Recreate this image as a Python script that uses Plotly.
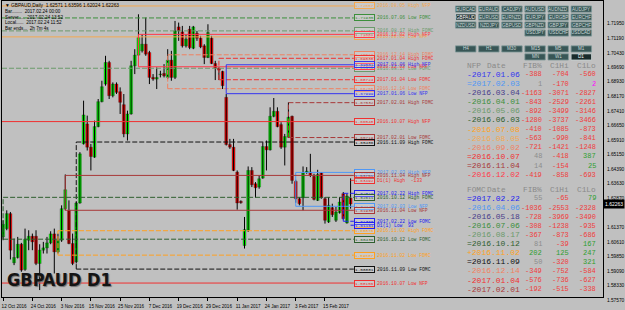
import plotly.graph_objects as go

# ---------------- data ----------------
bar_open = [1.60555,1.60986,1.61764,1.59208,1.59484,1.60174,1.58863,1.60382,1.60589,1.60589,
            1.59174,1.59864,1.59985,1.60244,1.60710,1.59777,1.60382,1.62022,1.61936,1.60209,
            1.59260,1.62316,1.65390,1.66426,1.65217,1.64699,1.66288,1.67584,1.68499,1.69621,
            1.67894,1.68499,1.68102,1.67428,1.65908,1.66944,1.69449,1.70001,1.70226,1.70571,
            1.70139,1.68844,1.68758,1.68982,1.69051,1.68844,1.69742,1.68844,1.71469,1.71210,
            1.70485,1.71348,1.70364,1.71141,1.70882,1.70485,1.69880,1.70882,1.69569,1.69328,
            1.69155,1.67808,1.65356,1.65217,1.63922,1.62402,1.60105,1.60900,1.64008,1.63318,
            1.63145,1.63611,1.65252,1.65080,1.66824,1.67083,1.66392,1.65217,1.65736,1.66824,
            1.63439,1.62540,1.62592,1.63922,1.63922,1.63698,1.62454,1.63888,1.62540,1.61332,
            1.62074,1.61418,1.61815,1.62800,1.61280,1.62571]
bar_high = [1.61418,1.61936,1.61850,1.60468,1.60555,1.60244,1.60986,1.60900,1.60727,1.60900,
            1.60174,1.60296,1.60555,1.60848,1.60986,1.60727,1.62195,1.63801,1.62454,1.60727,
            1.62368,1.64959,1.67635,1.66858,1.65390,1.66599,1.67722,1.68671,1.69967,1.69708,
            1.68585,1.68585,1.68326,1.67981,1.67117,1.69708,1.70312,1.72125,1.71089,1.71953,
            1.70226,1.69017,1.69362,1.69190,1.69535,1.70312,1.70226,1.71780,1.71694,1.71521,
            1.71089,1.71521,1.71521,1.71262,1.71003,1.70571,1.71607,1.71003,1.69708,1.69362,
            1.69190,1.67981,1.65649,1.65649,1.64008,1.62454,1.61591,1.64216,1.64181,1.63404,
            1.63749,1.65476,1.65563,1.67290,1.67774,1.67290,1.66513,1.65908,1.67549,1.66858,
            1.63525,1.62627,1.64216,1.64181,1.64872,1.63836,1.64043,1.63922,1.62627,1.62627,
            1.62281,1.62109,1.62627,1.62886,1.62800,1.63596]
bar_low = [1.60382,1.60900,1.59381,1.59087,1.59432,1.58742,1.58794,1.59864,1.59864,1.59087,
           1.57792,1.59691,1.59691,1.60174,1.58655,1.59691,1.60296,1.61936,1.60174,1.59087,
           1.59174,1.62281,1.65356,1.65045,1.64008,1.64665,1.66254,1.67549,1.68413,1.67722,
           1.67808,1.67981,1.66944,1.65736,1.65563,1.66910,1.69017,1.69967,1.70139,1.69967,
           1.68499,1.68671,1.68240,1.68844,1.68844,1.68758,1.68671,1.68758,1.70744,1.70398,
           1.70398,1.70312,1.70312,1.70744,1.70364,1.69535,1.69846,1.69535,1.68706,1.68706,
           1.68240,1.65304,1.65131,1.63974,1.61971,1.62281,1.59950,1.60814,1.63145,1.62592,
           1.63059,1.63577,1.64008,1.65045,1.66772,1.66254,1.65131,1.64268,1.65701,1.63318,
           1.62333,1.62195,1.61936,1.63836,1.63663,1.62454,1.62419,1.62540,1.61245,1.61280,
           1.61591,1.61332,1.61764,1.61453,1.61245,1.62024]
bar_close = [1.61211,1.61764,1.59864,1.59484,1.60174,1.58828,1.60434,1.60589,1.60296,1.59174,
             1.59864,1.59985,1.60244,1.60710,1.59777,1.60382,1.62022,1.63007,1.60209,1.59174,
             1.62316,1.64872,1.66893,1.65217,1.64734,1.66288,1.67584,1.68361,1.69621,1.67894,
             1.68499,1.68067,1.67549,1.65908,1.66944,1.69449,1.70001,1.70917,1.70571,1.70053,
             1.68844,1.68758,1.68844,1.69017,1.68930,1.69742,1.68844,1.71262,1.71262,1.70485,
             1.70830,1.70398,1.71469,1.70882,1.70433,1.69880,1.71176,1.69569,1.69328,1.69224,
             1.68413,1.65356,1.65217,1.64008,1.62316,1.62333,1.60934,1.64008,1.63266,1.63110,
             1.63577,1.65252,1.65080,1.66824,1.67083,1.66288,1.65217,1.65770,1.66772,1.63490,
             1.62540,1.62281,1.63888,1.63974,1.63749,1.62506,1.63801,1.62592,1.61418,1.62195,
             1.61712,1.61850,1.62368,1.61504,1.62679,1.62263]

date_labels = ["12 Oct 2016", "24 Oct 2016", "3 Nov 2016", "15 Nov 2016", "25 Nov 2016", "7 Dec 2016",
               "19 Dec 2016", "29 Dec 2016", "11 Jan 2017", "24 Jan 2017", "3 Feb 2017", "15 Feb 2017"]
date_label_bars = [0, 8, 16, 24, 32, 40, 48, 56, 64, 72, 80, 88]

price_ticks = [1.71950, 1.71190, 1.70430, 1.69690, 1.68930, 1.68170, 1.67410, 1.66650, 1.65910, 1.65150,
               1.64390, 1.63630, 1.62870, 1.61370, 1.60610, 1.59850, 1.59090, 1.58330, 1.57570]

header_text = "\u25BC GBPAUD,Daily  1.62571 1.63596 1.62024 1.62263"
info_lines = ["Bar........  2017.02.24 00:00", "Server.....  2017.02.24 13:52",
              "Local......  2017.02.24 11:52", "Bar ends...  2h 7m 4s"]
current_price = "1.62263"

# NFP table
nfp_prefix = ["-", "=", "-", "-", "-", "-", "-", "-", "-", "=", "=", "-"]
nfp_dates = ["2017.01.06", "2017.02.03", "2016.03.04", "2016.04.01", "2016.05.06", "2016.06.03",
             "2016.07.08", "2016.08.05", "2016.09.02", "2016.10.07", "2016.11.04", "2016.12.02"]
nfp_fib = [-388, 1, -1163, -843, -892, -1280, -410, -563, -721, 48, 14, -419]
nfp_c1hi = [-704, -170, -3071, -2529, -3499, -3737, -1085, -990, -1421, -418, -154, -858]
nfp_c1lo = [-560, 2, -2827, -2261, -3146, -3466, -873, -841, -1248, 387, 25, -693]
nfp_colors = ["#3434F0", "#4F97F5", "#483D8B", "#3C8F3C", "#6B9A6B", "#2E5E2E",
              "#FFA020", "#F4A850", "#F08060", "#F03030", "#A83838", "#FF3A4A"]

# FOMC table
fomc_prefix = ["=", "-", "-", "-", "-", "=", "+", "=", "-", "-", "-"]
fomc_dates = ["2017.02.22", "2016.04.06", "2016.05.18", "2016.07.06", "2016.08.17", "2016.10.12",
              "2016.11.02", "2016.11.09", "2016.12.14", "2017.01.04", "2017.02.01"]
fomc_fib = [55, -1036, -728, -308, -367, 81, 202, 50, -349, -576, -192]
fomc_c1hi = [-65, -2553, -3969, -1238, -873, -39, 125, -320, -752, -736, -515]
fomc_c1lo = [79, -2328, -3490, -935, -686, 167, 247, 321, -584, -627, -338]
fomc_colors = ["#2020F0", "#4F97F5", "#483D8B", "#3C8F3C", "#6B9A6B", "#2E5E2E",
               "#FFA020", "#101010", "#F08060", "#F03030", "#A83838"]

# event levels drawn on the chart (start bar None = before the visible window)
ev_date = ["2016.08.05", "2016.07.06", "2016.08.17", "2016.12.02", "2016.12.14", "2017.01.04",
           "2017.01.06", "2017.02.01", "2016.10.07", "2016.11.09", "2017.02.03", "2016.11.04",
           "2017.02.22", "2016.10.12", "2016.11.02"]
ev_type = ["NFP", "FOMC", "FOMC", "NFP", "FOMC", "FOMC", "NFP", "FOMC", "NFP", "FOMC", "NFP", "NFP",
           "FOMC", "FOMC", "FOMC"]
ev_bar = [None, None, None, 37, 45, 59, 61, 78, None, 20, 80, 17, 93, 0, 15]
ev_high = [1.72557, None, 1.71262, 1.71081, 1.70019, 1.69838, 1.69501, 1.67532, 1.66548, 1.65486,
           1.63906, 1.63751, 1.62819, 1.62611, 1.60876]
ev_low = [1.70951, 1.71935, 1.69320, 1.69398, 1.68258, 1.68724, 1.67999, 1.65719, 1.58156, 1.58881,
          1.62145, 1.61938, 1.61368, 1.60436, 1.59607]

prev_text = ["D1(1) High  -133", "D1(1) Low  93"]
prev_price = [1.63492, 1.61161]
prev_color = ["#F03030", "#2020F0"]

sym_rows = [["EURCAD", "EURAUD", "CADJPY", "AUDUSD", "AUDNZD", "AUDJPY"],
            ["GBPAUD", "EURUSD", "EURNZD", "EURJPY", "EURGBP", "EURCHF"],
            ["NZDUSD", "NZDJPY", "GBPUSD", "GBPNZD", "GBPJPY", "GBPCHF"],
            ["", "", "", "USDJPY", "USDCHF", "USDCAD"]]
tf_rows = [["H4", "H1", "M30", "M15", "M5", "M1"], ["", "", "", "MN", "W1", "D1"]]
selected = ["GBPAUD", "D1"]

# ---------------- layout geometry ----------------
W, H = 625, 310
L, R, T, B = 2, 20, 0, 13
PW, PH = W - L - R, H - T - B
BAR_PX = 3.67
X0 = -0.3
X1 = X0 + PW / BAR_PX
Y0, Y1 = 1.57431, 1.72816
BG = "#C0C0C0"
MONO = "Liberation Mono"
SANS = "Liberation Sans"
FS_HDR, FS_DATE, FS_NUM = 7.8, 8.0, 7.0


def pxp(xp):
    return (xp - L) / PW


def pyp(yp):
    return 1 - (yp - T) / PH


def xi(xp):
    return X0 + (xp - L) / BAR_PX


fig = go.Figure()
n = len(bar_open)
idx = list(range(n))

# wicks
wx, wy = [], []
for i in idx:
    wx += [i, i, None]
    wy += [bar_low[i], bar_high[i], None]
fig.add_trace(go.Scatter(x=wx, y=wy, mode="lines", line=dict(color="black", width=1),
                         hoverinfo="skip", showlegend=False))

# bodies
for up, col in ((True, "#00FF00"), (False, "#FF0000")):
    sel = [i for i in idx if (bar_close[i] >= bar_open[i]) == up]
    fig.add_trace(go.Bar(
        x=sel,
        base=[min(bar_open[i], bar_close[i]) for i in sel],
        y=[max(abs(bar_close[i] - bar_open[i]), 0.00012) for i in sel],
        width=0.82, marker=dict(color=col, line=dict(color="#202020", width=0.3)),
        hoverinfo="skip", showlegend=False))

color_by_date = {}
for d, c in zip(nfp_dates, nfp_colors):
    color_by_date[("NFP", d)] = c
for d, c in zip(fomc_dates, fomc_colors):
    color_by_date[("FOMC", d)] = c

LINE_END = xi(355)
BOX_X = xi(355)
TXT_X = xi(376)
annotations = []


def level_label(price, text, color):
    annotations.append(dict(x=BOX_X, y=price, xref="x", yref="y", xanchor="left", yanchor="middle",
                            text=f"{price:.5f}", showarrow=False,
                            font=dict(family=MONO, size=4.4, color=color),
                            bordercolor=color, borderwidth=1, borderpad=0, bgcolor="rgba(230,230,230,0.25)"))
    annotations.append(dict(x=TXT_X, y=price, xref="x", yref="y", xanchor="left", yanchor="middle",
                            text=text, showarrow=False,
                            font=dict(family=MONO, size=4.7, color=color)))


for d, t, sb, hi, lo in zip(ev_date, ev_type, ev_bar, ev_high, ev_low):
    color = color_by_date[(t, d)]
    dash = "solid" if t == "NFP" else "5px,2px"
    start = X0 if sb is None else sb
    for side, price in (("High", hi), ("Low", lo)):
        if price is None:
            continue
        fig.add_trace(go.Scatter(x=[start, LINE_END], y=[price, price], mode="lines",
                                 line=dict(color=color, width=1, dash=dash),
                                 hoverinfo="skip", showlegend=False))
        level_label(price, f"{d} {side} {t}", color)
    if sb is not None and hi is not None and lo is not None:
        fig.add_trace(go.Scatter(x=[sb, sb], y=[lo, hi], mode="lines",
                                 line=dict(color=color, width=1, dash=dash),
                                 hoverinfo="skip", showlegend=False))

for txt, price, color in zip(prev_text, prev_price, prev_color):
    fig.add_trace(go.Scatter(x=[n - 1, LINE_END], y=[price, price], mode="lines",
                             line=dict(color=color, width=1), hoverinfo="skip", showlegend=False))
    level_label(price, txt, color)

# current price box
annotations.append(dict(x=pxp(605), y=bar_close[-1], xref="paper", yref="y", xanchor="left",
                        yanchor="middle", text=current_price, showarrow=False,
                        font=dict(family=SANS, size=5, color="white"), bgcolor="black", borderpad=1))

# header text
annotations.append(dict(x=pxp(3), y=pyp(4.5), xref="paper", yref="paper", xanchor="left", yanchor="middle",
                        text=header_text, showarrow=False, font=dict(family=SANS, size=4.8, color="black")))
for k, line in enumerate(info_lines):
    annotations.append(dict(x=pxp(3), y=pyp(10.7 + 5.5 * k), xref="paper", yref="paper", xanchor="left",
                            yanchor="middle", text=line, showarrow=False,
                            font=dict(family=SANS, size=4.6, color="black")))

# big symbol label
annotations.append(dict(x=pxp(5), y=pyp(279), xref="paper", yref="paper", xanchor="left", yanchor="middle",
                        text="<b>GBPAUD D1</b>", showarrow=False,
                        font=dict(family="DejaVu Sans Condensed, DejaVu Sans", size=18, color="#141414",
                                  shadow="1px 1px 1px #707070")))


# tables
def num_color(v, fib):
    if v < 0:
        return "#F03C3C"
    if fib:
        return "#8C8C8C" if v <= 100 else "#2E9E2E"
    return "#FF00FF" if v < 5 else "#2E9E2E"


def table(title, y0, step, prefixes, dates, fib, hi, lo, colors):
    hdr = "#8A8A8A"
    cells = [(title, 467, "left"), ("Date", 510, "right"), ("FIB%", 546, "right"),
             ("C1Hi", 573, "right"), ("C1Lo", 600, "right")]
    for txt, x, anc in cells:
        annotations.append(dict(x=pxp(x), y=pyp(y0), xref="paper", yref="paper", xanchor=anc,
                                yanchor="middle", text=txt, showarrow=False,
                                font=dict(family=MONO, size=FS_HDR, color=hdr)))
    for r in range(len(dates)):
        yy = pyp(y0 + step * (r + 1) - 0.5)
        annotations.append(dict(x=pxp(467), y=yy, xref="paper", yref="paper", xanchor="left",
                                yanchor="middle", text=prefixes[r] + dates[r], showarrow=False,
                                font=dict(family=MONO, size=FS_DATE, color=colors[r])))
        for v, x, isfib in ((fib[r], 546, True), (hi[r], 573, False), (lo[r], 600, False)):
            annotations.append(dict(x=pxp(x), y=yy, xref="paper", yref="paper", xanchor="right",
                                    yanchor="middle", text=str(v), showarrow=False,
                                    font=dict(family=MONO, size=FS_NUM, color=num_color(v, isfib))))


table("NFP", 65, 9.15, nfp_prefix, nfp_dates, nfp_fib, nfp_c1hi, nfp_c1lo, nfp_colors)
table("FOMC", 189.5, 9.1, fomc_prefix, fomc_dates, fomc_fib, fomc_c1hi, fomc_c1lo, fomc_colors)

# buttons
shapes = []


def buttons(rows, tops):
    for r, row in enumerate(rows):
        for c, name in enumerate(row):
            if not name:
                continue
            bx, by, bw, bh = 457 + 23.2 * c, tops[r], 20.5, 6.2
            sel = name in selected
            shapes.append(dict(type="rect", xref="paper", yref="paper",
                               x0=pxp(bx), x1=pxp(bx + bw), y0=pyp(by + bh), y1=pyp(by),
                               fillcolor="#1A2B2B" if sel else "#385656",
                               line=dict(color="#C8D4D4" if sel else "#7E9898", width=0.8)))
            annotations.append(dict(x=pxp(bx + bw / 2), y=pyp(by + bh / 2), xref="paper", yref="paper",
                                    xanchor="center", yanchor="middle", text=name, showarrow=False,
                                    font=dict(family=SANS, size=4.6, color="#FFFFFF" if sel else "#C9D6D6")))


buttons(sym_rows, [5, 13, 21, 29])
buttons(tf_rows, [45, 53])

fig.update_layout(
    width=W, height=H, margin=dict(l=L, r=R, t=T, b=B),
    paper_bgcolor=BG, plot_bgcolor=BG, barmode="overlay", showlegend=False,
    annotations=annotations, shapes=shapes,
    xaxis=dict(range=[X0, X1], showgrid=False, zeroline=False, tickmode="array",
               tickvals=date_label_bars, ticktext=date_labels, ticks="outside", ticklen=3,
               tickcolor="black", ticklabelshift=11, ticklabelstandoff=1,
               tickfont=dict(family=SANS, size=4.6, color="black"),
               showline=True, linecolor="black", linewidth=1, mirror=True, fixedrange=True),
    yaxis=dict(range=[Y0, Y1], side="right", showgrid=False, zeroline=False, tickmode="array",
               tickvals=price_ticks, ticktext=[f"{v:.5f}" for v in price_ticks], ticks="",
               ticklabelshift=6, ticklabelstandoff=2,
               tickfont=dict(family=SANS, size=4.8, color="black"),
               showline=True, linecolor="black", linewidth=1, mirror=True, fixedrange=True),
)

fig.write_html("out.html")
